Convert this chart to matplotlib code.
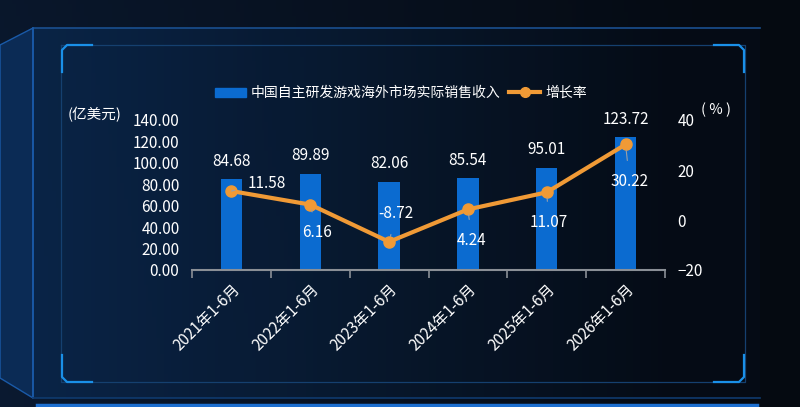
import numpy as np
import matplotlib
matplotlib.use('Agg')
import matplotlib.pyplot as plt
from matplotlib.lines import Line2D
from matplotlib.patches import Rectangle, Polygon

plt.rcParams['font.family'] = ['Noto Sans CJK SC', 'DejaVu Sans']

categories = ['2021年1-6月', '2022年1-6月', '2023年1-6月', '2024年1-6月', '2025年1-6月', '2026年1-6月']
revenue = [84.68, 89.89, 82.06, 85.54, 95.01, 123.72]
growth = [11.58, 6.16, -8.72, 4.24, 11.07, 30.22]
growth_labels = ['11.58', '6.16', '-8.72', '4.24', '11.07', '30.22']
# offsets (pixels) of growth labels from their points
growth_offsets = [(35, 8), (7, -28), (7, 28), (4, -31), (2, -30), (4, -37)]

bar_color = '#0b6bd0'
line_color = '#f09a36'
fs = 11

fig = plt.figure(figsize=(8, 4.07), dpi=100)
W, H = 800, 407

# background
bg = fig.add_axes([0, 0, 1, 1])
bg.set_xlim(0, W)
bg.set_ylim(H, 0)
bg.axis('off')
gx = np.linspace(0, 1, 200)
gy = np.linspace(0, 1, 100)
X, Y = np.meshgrid(gx, gy)
base = np.array([0.02, 0.04, 0.07])
hi = np.array([0.04, 0.10, 0.19])
t = np.clip(1 - X * 1.1, 0, 1)[..., None]
img = base + (hi - base) * t * (0.85 + 0.15 * Y[..., None])
bg.imshow(img, extent=[0, W, H, 0], aspect='auto', zorder=0)

# panel
panel_t = np.clip(1 - gx * 1.15, 0, 1)
panel_img = np.array([0.02, 0.05, 0.09]) + (np.array([0.04, 0.15, 0.29]) - np.array([0.02, 0.05, 0.09])) * panel_t[:, None]
bg.imshow(panel_img[None, :, :], extent=[33, 760, 398, 28], aspect='auto', zorder=1, alpha=0.9)
bg.add_patch(Polygon([[0, 45], [33, 28], [33, 398], [0, 378]], closed=True,
                     facecolor='#0b2b55', edgecolor='#1a5aa8', lw=1, zorder=1))
bg.plot([33, 760], [28, 28], color='#1a4f8f', lw=1.2, zorder=2)
bg.plot([33, 33], [28, 398], color='#1a5aa8', lw=1.2, zorder=2)
bg.plot([33, 760], [398, 398], color='#0f3a6e', lw=1.2, zorder=2)
bg.plot([37, 757], [405, 405], color='#1d6fd0', lw=2.5, zorder=2)

# inner frame
fc = '#15406f'
bg.plot([61, 745, 745, 61, 61], [45, 45, 382, 382, 45], color=fc, lw=0.9, zorder=2)
cc = '#1a90e8'
bg.plot([62, 62, 67, 92], [72, 50, 45, 45], color=cc, lw=1.6, zorder=3)
bg.plot([62, 62, 67, 92], [355, 377, 382, 382], color=cc, lw=1.6, zorder=3)
bg.plot([744, 744, 739, 714], [72, 50, 45, 45], color=cc, lw=1.6, zorder=3)
bg.plot([744, 744, 739, 714], [355, 377, 382, 382], color=cc, lw=1.6, zorder=3)

# chart axes
ax = fig.add_axes([192 / W, 1 - 270 / H, 473 / W, 150 / H])
ax.set_facecolor('none')
x = np.arange(len(categories))
ax.bar(x, revenue, width=0.27, color=bar_color, zorder=2)
ax.set_xlim(-0.5, len(categories) - 0.5)
ax.set_ylim(0, 140)
ax.set_yticks(np.arange(0, 141, 20))
ax.set_yticklabels(['%.2f' % v for v in np.arange(0, 141, 20)])
ax.tick_params(axis='y', length=0, pad=9, colors='white', labelsize=fs)
ax.set_xticks(x)
ax.set_xticklabels(categories, rotation=45, ha='right', rotation_mode='anchor')
ax.tick_params(axis='x', length=0, pad=8, colors='white', labelsize=fs)
ax.set_xticks(np.arange(-0.5, len(categories)), minor=True)
ax.tick_params(axis='x', which='minor', length=6, color='#8a8f96', width=1.2)
for s in ['top', 'left', 'right']:
    ax.spines[s].set_visible(False)
ax.spines['bottom'].set_color('#8a8f96')
ax.spines['bottom'].set_linewidth(1.5)

for i, v in enumerate(revenue):
    ax.annotate('%.2f' % v, (x[i], v), xytext=(0, 7), textcoords='offset points',
                ha='center', va='bottom', color='white', fontsize=fs)

ax2 = ax.twinx()
ax2.set_ylim(-20, 40)
ax2.set_yticks([-20, 0, 20, 40])
ax2.tick_params(axis='y', length=0, pad=9, colors='white', labelsize=fs)
for s in ['top', 'left', 'right', 'bottom']:
    ax2.spines[s].set_visible(False)
ax2.plot(x, growth, color=line_color, lw=3, marker='o', markersize=8, zorder=3)

for i, v in enumerate(growth):
    dx, dy = growth_offsets[i]
    ax2.annotate(growth_labels[i], (x[i], v), xytext=(dx * 0.72, dy * 0.72),
                 textcoords='offset points', ha='center', va='center',
                 color='white', fontsize=fs,
                 arrowprops=dict(arrowstyle='-', color='#9aa0a8', lw=0.8,
                                 shrinkA=7, shrinkB=4))

# unit labels
fig.text(68 / W, 1 - 115 / H, '(亿美元)', color='white', fontsize=10.5, ha='left', va='center')
fig.text(701 / W, 1 - 110 / H, '( % )', color='white', fontsize=10.5, ha='left', va='center')

# legend
handles = [Rectangle((0, 0), 1, 1, color=bar_color),
           Line2D([0], [0], color=line_color, lw=3, marker='o', markersize=7)]
fig.legend(handles, ['中国自主研发游戏海外市场实际销售收入', '增长率'], loc='center',
           bbox_to_anchor=(401 / W, 1 - 93 / H), ncol=2, frameon=False, fontsize=10,
           labelcolor='white', handlelength=2.2, handleheight=0.6, columnspacing=0.6,
           handletextpad=0.4)

fig.savefig('out.png', dpi=100)
